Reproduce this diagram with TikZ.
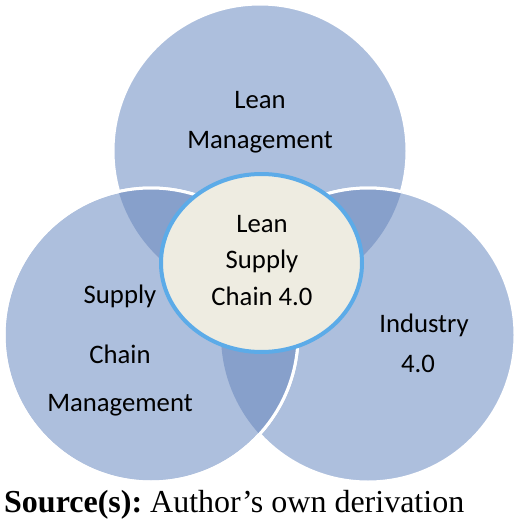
\documentclass[tikz,border=0pt]{standalone}
\usepackage{fontspec}
\usetikzlibrary{shapes.geometric}
\setmainfont{Liberation Serif}
\newfontfamily\calfont{Carlito}
\definecolor{lightc}{RGB}{173,191,221}
\definecolor{darkc}{RGB}{135,160,203}
\definecolor{coref}{RGB}{238,236,225}
\definecolor{corel}{RGB}{92,171,232}
\tikzset{
  lbl/.style={font=\calfont\fontsize{26.7}{32}\selectfont, text=black, inner sep=0pt, anchor=base},
  ring/.style={draw=white, line width=3pt},
}
\begin{document}
\begin{tikzpicture}[x=1pt,y=-1pt]
\useasboundingbox (0,0) rectangle (520,530);
\def\Tc{(260,151) circle[radius=147]}
\def\Rc{(368,335) circle[radius=147]}
\def\Lc{(151,335) circle[radius=147]}
% base circles
\fill[lightc] \Tc; \draw[ring] \Tc;
\fill[lightc] \Rc; \draw[ring] \Rc;
\fill[lightc] \Lc; \draw[ring] \Lc;
% overlaps
\begin{scope}\clip \Tc; \fill[darkc] \Lc; \fill[darkc] \Rc; \end{scope}
\begin{scope}\clip \Lc; \fill[darkc] \Rc; \end{scope}
\begin{scope}\clip \Tc; \draw[ring] \Rc; \end{scope}
\draw[ring] \Lc;
% core
\node[ellipse, draw=corel, line width=4pt, fill=coref, minimum width=201pt, minimum height=178pt, inner sep=0pt] (core) at (261.5,263) {};
\node[lbl] (c1) at (262,232) {Lean};
\node[lbl] (c2) at (262,268) {Supply};
\node[lbl] (c3) at (262,305) {Chain 4.0};
\node[lbl] (t1) at (260,108) {Lean};
\node[lbl] (t2) at (260,148) {Management};
\node[lbl] (l1) at (120,303) {Supply};
\node[lbl] (l2) at (120,363) {Chain};
\node[lbl] (l3) at (120,411) {Management};
\node[lbl] (r1) at (424,332) {Industry};
\node[lbl] (r2) at (418,372) {4.0};
\node[font=\fontsize{32}{38}\selectfont, inner sep=0pt, anchor=base west] (src) at (4,512) {\textbf{Source(s):}~Author’s own derivation};
\end{tikzpicture}
\end{document}
